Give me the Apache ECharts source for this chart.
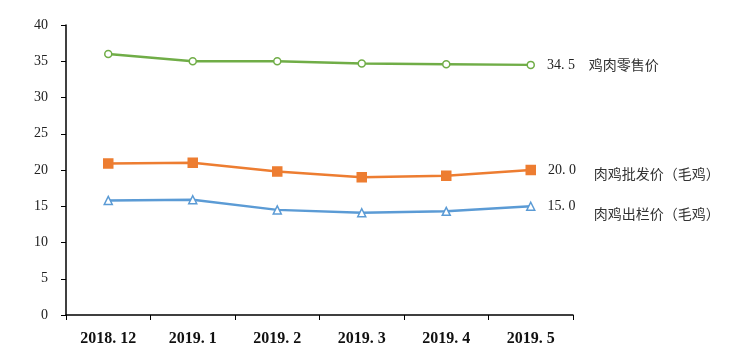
<!DOCTYPE html>
<html><head><meta charset="utf-8">
<script src="https://cdn.jsdelivr.net/npm/echarts@6/dist/echarts.min.js"></script>
<style>html,body{margin:0;padding:0;background:#fff}#c{width:750px;height:363px}</style>
</head><body><div id="c"></div>
<script>
const categories = ['2018.12','2019.1','2019.2','2019.3','2019.4','2019.5'];
const retail = [36.0, 35.0, 35.0, 34.7, 34.6, 34.5];
const wholesale = [20.9, 21.0, 19.8, 19.0, 19.2, 20.0];
const farmgate = [15.8, 15.9, 14.5, 14.1, 14.3, 15.0];
const names = ['鸡肉零售价', '肉鸡批发价（毛鸡）', '肉鸡出栏价（毛鸡）'];
const yTicks = [0, 5, 10, 15, 20, 25, 30, 35, 40];

const serif = '"Liberation Serif", "DejaVu Serif", serif';
const cjk = '"Noto Sans CJK SC", sans-serif';

function mk(name, values, color, symbol, size, filled, nameOffset) {
  const last = values.length - 1;
  return {
    name, type: 'line', data: values.map((v, i) => i === last ? {
      value: v,
      label: { show: true, position: 'right', distance: 12, formatter: v.toFixed(1).replace('.', '. '),
        fontFamily: serif, fontSize: 14, color: '#222' }
    } : v),
    symbol, symbolSize: size, showAllSymbol: true,
    lineStyle: { color, width: 2.5 },
    itemStyle: { color: filled ? color : '#fff', borderColor: color, borderWidth: 1.5 },
    endLabel: { show: true, formatter: name, fontFamily: cjk, fontSize: 14, color: '#333',
      offset: nameOffset, distance: 0 },
    animation: false
  };
}

const chart = echarts.init(document.getElementById('c'));
chart.setOption({
  animation: false,
  grid: { left: 66, right: 177, top: 25, bottom: 48 },
  xAxis: {
    type: 'category', data: categories, boundaryGap: true,
    axisLine: { lineStyle: { color: '#000', width: 1.5 } },
    axisTick: { show: true, length: 5, inside: false, alignWithLabel: false, lineStyle: { color: '#000' } },
    axisLabel: { fontFamily: serif, fontSize: 16, fontWeight: 'bold', color: '#111', margin: 16,
      formatter: v => v.replace('.', '. ') }
  },
  yAxis: {
    type: 'value', min: yTicks[0], max: yTicks[yTicks.length - 1], interval: 5,
    axisLine: { show: true, lineStyle: { color: '#000', width: 1.5 } },
    axisTick: { show: true, length: 5, lineStyle: { color: '#000' } },
    splitLine: { show: false },
    axisLabel: { fontFamily: serif, fontSize: 14, color: '#222', margin: 18 }
  },
  series: [
    mk(names[0], retail, '#70AD47', 'circle', 7, false, [58, 0]),
    mk(names[1], wholesale, '#ED7D31', 'rect', 9, true, [63, 4]),
    mk(names[2], farmgate, '#5B9BD5', 'triangle', 8, false, [63, 7])
  ]
});
</script></body></html>
